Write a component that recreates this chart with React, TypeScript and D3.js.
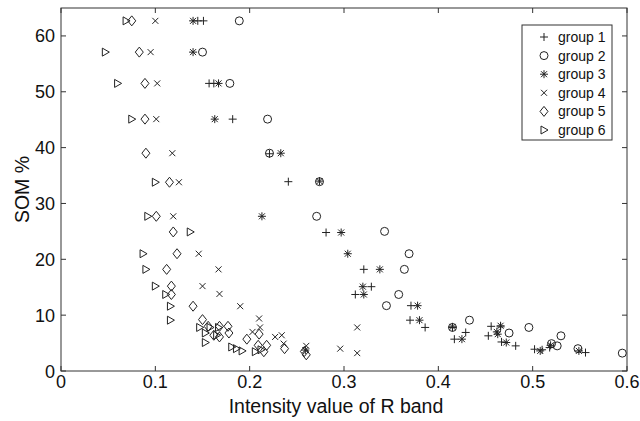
import { useEffect, useRef } from 'react';
import * as d3 from 'd3';

// [x, y] pairs, one array per group
const group1 = [[0.145,62.7],[0.151,62.7],[0.157,51.5],[0.162,51.5],[0.182,45.1],[0.221,38.9],[0.241,33.9],[0.281,24.8],[0.321,18.2],[0.329,15.1],[0.312,13.7],[0.371,11.7],[0.370,9.1],[0.386,7.8],[0.415,7.8],[0.417,5.7],[0.429,6.9],[0.453,6.3],[0.456,8.0],[0.466,7.9],[0.467,5.2],[0.482,4.5],[0.502,3.9],[0.510,3.8],[0.518,4.2],[0.556,3.3]];
const group2 = [[0.189,62.7],[0.150,57.1],[0.179,51.5],[0.219,45.1],[0.221,39.0],[0.274,33.9],[0.271,27.7],[0.343,25.0],[0.369,21.0],[0.364,18.2],[0.358,13.7],[0.345,11.7],[0.415,7.8],[0.433,9.1],[0.475,6.8],[0.496,7.8],[0.520,4.9],[0.526,4.5],[0.530,6.3],[0.548,4.0],[0.595,3.2]];
const group3 = [[0.140,62.7],[0.140,57.1],[0.167,51.5],[0.163,45.1],[0.233,39.0],[0.274,34.0],[0.213,27.7],[0.297,24.8],[0.304,21.0],[0.338,18.2],[0.320,15.1],[0.321,13.7],[0.378,11.7],[0.380,9.1],[0.425,5.7],[0.415,7.9],[0.462,7.0],[0.463,6.6],[0.466,8.1],[0.472,5.1],[0.508,3.6],[0.519,4.6],[0.549,3.6],[0.259,3.75]];
const group4 = [[0.100,62.7],[0.095,57.1],[0.102,51.5],[0.101,45.1],[0.118,39.0],[0.125,33.8],[0.119,27.7],[0.146,21.0],[0.167,18.2],[0.150,15.2],[0.168,13.8],[0.190,11.6],[0.210,9.4],[0.203,7.0],[0.211,7.8],[0.227,6.1],[0.234,6.4],[0.236,4.9],[0.260,4.5],[0.296,4.0],[0.314,7.8],[0.314,3.2]];
const group5 = [[0.075,62.7],[0.083,57.1],[0.089,51.5],[0.089,45.1],[0.090,39.0],[0.115,33.8],[0.101,27.7],[0.119,24.9],[0.123,21.0],[0.112,18.2],[0.117,15.2],[0.117,13.7],[0.140,11.6],[0.150,9.2],[0.156,8.0],[0.168,8.0],[0.162,6.4],[0.177,8.0],[0.178,6.8],[0.168,6.1],[0.197,5.7],[0.210,6.6],[0.209,4.6],[0.215,3.45],[0.218,4.6],[0.237,4.0],[0.260,2.9],[0.258,3.5]];
const group6 = [[0.069,62.7],[0.047,57.1],[0.060,51.5],[0.075,45.1],[0.100,33.8],[0.092,27.7],[0.137,24.9],[0.087,21.0],[0.090,18.2],[0.100,15.2],[0.111,13.7],[0.116,11.6],[0.116,9.1],[0.147,7.8],[0.158,7.8],[0.153,6.8],[0.153,5.1],[0.167,7.8],[0.165,6.4],[0.181,4.3],[0.186,4.0],[0.192,3.6],[0.206,3.45],[0.212,3.8]];

const groupNames = ['group 1', 'group 2', 'group 3', 'group 4', 'group 5', 'group 6'];
const xTicks = [0, 0.1, 0.2, 0.3, 0.4, 0.5, 0.6];
const yTicks = [0, 10, 20, 30, 40, 50, 60];

const ink = '#222';

// MATLAB-like marker outlines
const markerPaths = [
  'M-4,0H4M0,-4V4',
  'M4,0A4,4 0 1,1 -4,0A4,4 0 1,1 4,0Z',
  'M-4,0H4M0,-4V4M-3,-3L3,3M-3,3L3,-3',
  'M-3,-3L3,3M-3,3L3,-3',
  'M0,-5L4,0L0,5L-4,0Z',
  'M-3,-4L4,0L-3,4Z'
];

export default function App() {
  const ref = useRef<SVGSVGElement>(null);

  useEffect(() => {
    const svg = d3.select(ref.current);
    svg.selectAll('*').remove();

    const left = 61, right = 627, top = 8, bottom = 371;
    const x = d3.scaleLinear().domain([0, 0.6]).range([left, right]);
    const y = d3.scaleLinear().domain([0, 65]).range([bottom, top]);

    const font = 'Arial, "Liberation Sans", sans-serif';

    // box
    svg.append('rect')
      .attr('x', left).attr('y', top)
      .attr('width', right - left).attr('height', bottom - top)
      .attr('fill', 'white').attr('stroke', '#333').attr('stroke-width', 1);

    // ticks (inward, all four sides)
    const tk = 5;
    const tg = svg.append('g').attr('stroke', '#333').attr('stroke-width', 1);
    xTicks.forEach(t => {
      tg.append('line').attr('x1', x(t)).attr('x2', x(t)).attr('y1', bottom).attr('y2', bottom - tk);
      tg.append('line').attr('x1', x(t)).attr('x2', x(t)).attr('y1', top).attr('y2', top + tk);
    });
    yTicks.forEach(t => {
      tg.append('line').attr('y1', y(t)).attr('y2', y(t)).attr('x1', left).attr('x2', left + tk);
      tg.append('line').attr('y1', y(t)).attr('y2', y(t)).attr('x1', right).attr('x2', right - tk);
    });

    svg.append('g').selectAll('text').data(xTicks).enter().append('text')
      .attr('x', d => x(d)).attr('y', bottom + 17)
      .attr('text-anchor', 'middle')
      .style('font-family', font).style('font-size', '18px').attr('fill', '#111')
      .text(d => String(d));

    svg.append('g').selectAll('text').data(yTicks).enter().append('text')
      .attr('x', left - 6).attr('y', d => y(d) + 6.5)
      .attr('text-anchor', 'end')
      .style('font-family', font).style('font-size', '18px').attr('fill', '#111')
      .text(d => String(d));

    svg.append('text')
      .attr('x', 336).attr('y', 413)
      .attr('text-anchor', 'middle')
      .style('font-family', font).style('font-size', '19.5px').attr('fill', '#111')
      .text('Intensity value of R band');

    svg.append('text')
      .attr('transform', 'translate(29,' + (y(32.5)) + ')rotate(-90)')
      .attr('text-anchor', 'middle')
      .style('font-family', font).style('font-size', '19.5px').attr('fill', '#111')
      .text('SOM %');

    const groups = [group1, group2, group3, group4, group5, group6];
    groups.forEach((data, i) => {
      svg.append('g').selectAll('path').data(data).enter().append('path')
        .attr('transform', d => 'translate(' + x(d[0]) + ',' + y(d[1]) + ')')
        .attr('d', markerPaths[i])
        .attr('fill', 'none').attr('stroke', ink).attr('stroke-width', 1);
    });

    // legend
    const lg = svg.append('g');
    lg.append('rect')
      .attr('x', 522).attr('y', 25).attr('width', 90).attr('height', 115)
      .attr('fill', 'white').attr('stroke', '#333').attr('stroke-width', 1);
    groupNames.forEach((name, i) => {
      const cy = 37 + i * 18.6;
      lg.append('path')
        .attr('transform', 'translate(544,' + cy + ')')
        .attr('d', markerPaths[i])
        .attr('fill', 'none').attr('stroke', ink).attr('stroke-width', 1);
      lg.append('text')
        .attr('x', 558).attr('y', cy + 5)
        .style('font-family', font).style('font-size', '14px').attr('fill', '#111')
        .text(name);
    });
  }, []);

  return (
    <svg ref={ref} width={640} height={421}
      style={{ position: 'absolute', left: 0, top: 0, background: 'white' }} />
  );
}
